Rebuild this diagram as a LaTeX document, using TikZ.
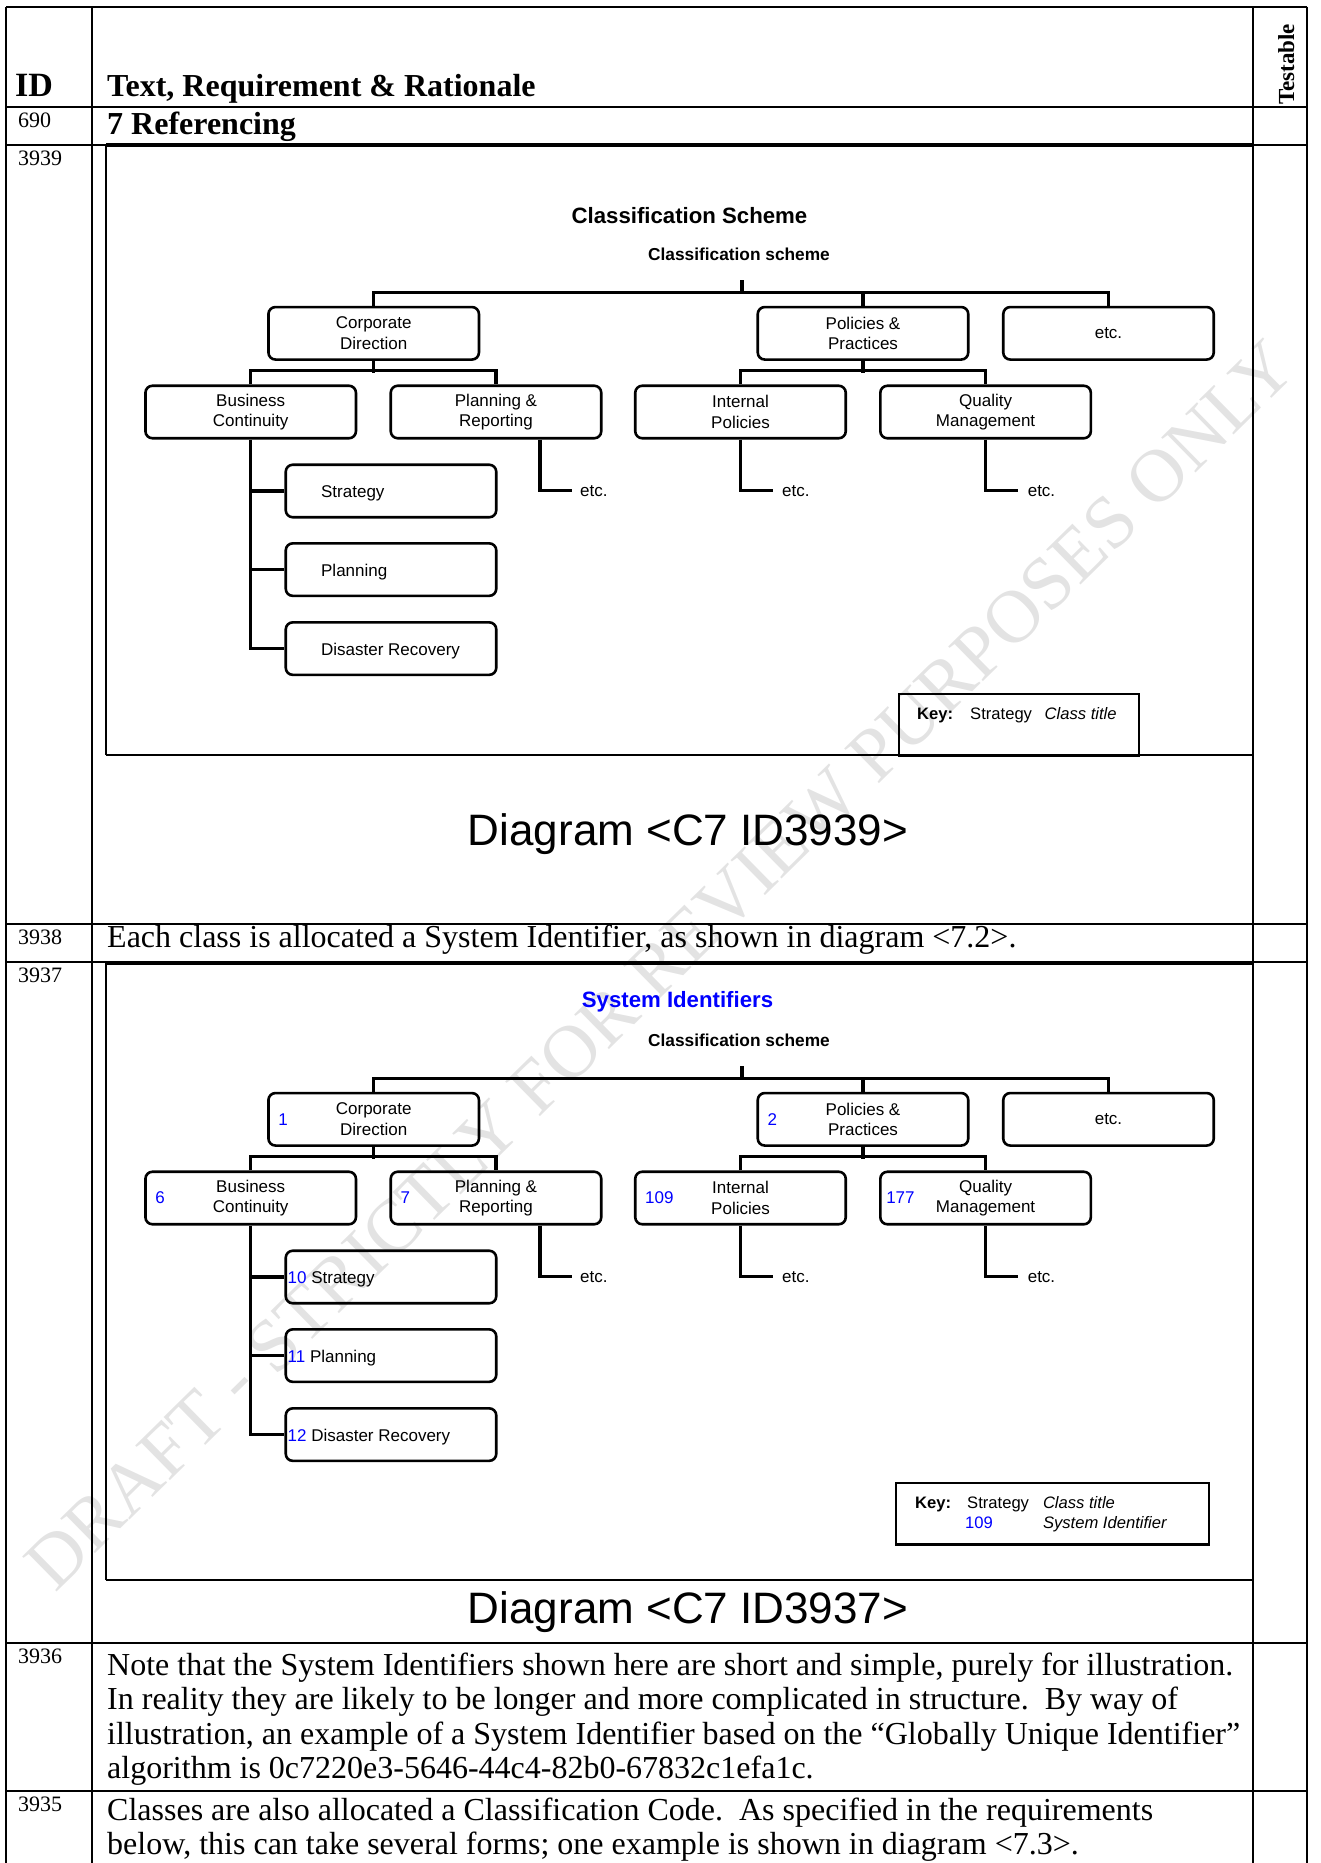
\documentclass[tikz,border=0pt]{standalone}
\usepackage{fontspec}
\setmainfont{Liberation Serif}
\newfontfamily\arialfont{Liberation Sans}
\usetikzlibrary{positioning}
\definecolor{sysblue}{RGB}{0,0,255}
\def\boxw{210.5pt}
\def\boxh{52.5pt}

\begin{document}
\begin{tikzpicture}[x=1pt,y=-1pt,
  tablerule/.style={line width=1.8pt},
  diagframe/.style={line width=2.6pt},
  framehead/.style={line width=4pt},
  classbox/.style={draw,line width=2.6pt,rounded corners=7pt,
    minimum width=\boxw,minimum height=\boxh,inner sep=0pt,
    align=center,font=\arialfont\fontsize{17}{20.5}\selectfont},
  link/.style={line width=3.4pt},
  boxtext/.style={inner sep=0pt,anchor=base west,
    font=\arialfont\fontsize{17}{20.5}\selectfont},
  sysid/.style={boxtext,anchor=west,text=sysblue},
  keytext/.style={inner sep=0pt,anchor=base west,
    font=\arialfont\fontsize{16.6}{20}\selectfont},
  celltext/.style={inner sep=0pt,anchor=base west,
    font=\fontsize{32}{34.5}\selectfont},
  idtext/.style={inner sep=0pt,anchor=base west,
    font=\fontsize{22}{24}\selectfont},
  captiontext/.style={inner sep=0pt,anchor=base,
    font=\arialfont\fontsize{44}{50}\selectfont}]
\useasboundingbox (0,0) rectangle (1321,1863);

% the watermark, behind everything
\node[rotate=44.5,text=black!11,font=\fontsize{75}{80}\selectfont] (wm)
  at (660,965) {DRAFT - STRICTLY FOR REVIEW PURPOSES ONLY};

% table rules
\draw[tablerule] (6,6.7) -- (1307,6.7);
\foreach \y in {106.7,145,924,962,1643.3,1791}
  \draw[tablerule] (6,\y) -- (1307,\y);
\foreach \x in {6,92,1253,1307}
  \draw[tablerule] (\x,6.7) -- (\x,1863);

% header row
\node[idtext,font=\bfseries\fontsize{34}{36}\selectfont] (idhead) at (15,96.7) {ID};
\node[celltext,font=\bfseries\fontsize{32}{34}\selectfont] (texthead) at (107,96.7)
  {Text, Requirement \& Rationale};
\node[inner sep=0pt,anchor=base west,rotate=90,
  font=\bfseries\fontsize{23}{25}\selectfont] (testhead) at (1294,105) {Testable};

% row ids
\node[idtext] (r690) at (18,127) {690};
\node[idtext] (r3939) at (18,165.5) {3939};
\node[idtext] (r3938) at (18,944) {3938};
\node[idtext] (r3937) at (18,982) {3937};
\node[idtext] (r3936) at (18,1663) {3936};
\node[idtext] (r3935) at (18,1811) {3935};

% row texts
\node[celltext,font=\bfseries\fontsize{32}{34.5}\selectfont] (sect) at (107,134)
  {7 Referencing};
\node[celltext] (each) at (107,947)
  {Each class is allocated a System Identifier, as shown in diagram <7.2>.};
\node[celltext] (note1) at (107,1675)
  {Note that the System Identifiers shown here are short and simple, purely for illustration.};
\node[celltext] (note2) at (107,1709.5)
  {In reality they are likely to be longer and more complicated in structure.\ \ By way of};
\node[celltext] (note3) at (107,1744)
  {illustration, an example of a System Identifier based on the “Globally Unique Identifier”};
\node[celltext] (note4) at (107,1778.5)
  {algorithm is 0c7220e3-5646-44c4-82b0-67832c1efa1c.};
\node[celltext] (code1) at (107,1820)
  {Classes are also allocated a Classification Code.\ \ As specified in the requirements};
\node[celltext] (code2) at (107,1854.5)
  {below, this can take several forms; one example is shown in diagram <7.3>.};

% the two diagram frames
\draw[diagframe] (106,755) -- (106,145);
\draw[framehead] (106,145) -- (1253,145);
\draw[diagframe] (106,755) -- (1253,755);
\draw[diagframe] (106,1580) -- (106,962.5);
\draw[framehead] (106,962.5) -- (1253,962.5);
\draw[diagframe] (106,1580) -- (1253,1580);

% diagram titles
\node[inner sep=0pt,anchor=base,font=\arialfont\bfseries\fontsize{22.2}{24}\selectfont]
  (title1) at (689.5,223) {Classification Scheme};
\node[inner sep=0pt,anchor=base,text=sysblue,
  font=\arialfont\bfseries\fontsize{22.2}{24}\selectfont]
  (title2) at (677.5,1007) {System Identifiers};

% the same class tree in both diagrams
\foreach \tr/\dy in {a/0,b/786}{
  \node[inner sep=0pt,anchor=base,font=\arialfont\bfseries\fontsize{17.3}{20}\selectfont]
    (\tr-scheme) at (739,260+\dy) {Classification scheme};
  \coordinate (\tr-root) at (742,280+\dy);
  % first level
  \node[classbox] (\tr-cd) at (373.7,333.3+\dy) {Corporate\\Direction};
  \node[classbox] (\tr-pp) at (863,333.3+\dy) {Policies \&\\Practices};
  \node[classbox] (\tr-etc) at (1108.5,333.3+\dy) {etc.};
  % second level
  \node[classbox] (\tr-bc) at (250.7,412+\dy) {Business\\Continuity};
  \node[classbox] (\tr-pr) at (496,412+\dy) {Planning \&\\Reporting};
  \node[classbox] (\tr-ip) at (740.5,412+\dy) {Internal\\Policies};
  \node[classbox] (\tr-qm) at (985.6,412+\dy) {Quality\\Management};
  % third level, titles are set below
  \node[classbox] (\tr-st) at (391,491+\dy) {};
  \node[classbox] (\tr-pl) at (391,569.6+\dy) {};
  \node[classbox] (\tr-dr) at (391,648.6+\dy) {};
  % loose ends
  \node[boxtext,anchor=west] (\tr-pre) at (580,490.7+\dy) {etc.};
  \node[boxtext,anchor=west] (\tr-ipe) at (782,490.7+\dy) {etc.};
  \node[boxtext,anchor=west] (\tr-qme) at (1027.6,490.7+\dy) {etc.};
  % connectors
  \draw[link] (\tr-root) -- ++(0,13.3);
  \draw[link] (\tr-cd.north) -- ++(0,-13.4) -| (\tr-etc.north);
  \draw[link] (\tr-pp.north) -- ++(0,-13.4);
  \draw[link] (\tr-cd.south) -- ++(0,12);
  \draw[link] (\tr-bc.north) -- ++(0,-14) -| (\tr-pr.north);
  \draw[link] (\tr-pp.south) -- ++(0,12);
  \draw[link] (\tr-ip.north) -- ++(0,-14) -| (\tr-qm.north);
  \draw[link] (\tr-bc.south) |- (\tr-dr.west);
  \draw[link] (\tr-st.west) -- (\tr-st.west -| \tr-bc.south);
  \draw[link] (\tr-pl.west) -- (\tr-pl.west -| \tr-bc.south);
  \draw[link] ([xshift=44pt]\tr-pr.south) |- ([xshift=-8.5pt]\tr-pre.west);
  \draw[link] (\tr-ip.south) |- ([xshift=-9pt]\tr-ipe.west);
  \draw[link] (\tr-qm.south) |- ([xshift=-9.6pt]\tr-qme.west);
}

% third level titles
\node[boxtext] (a-stt) at ([xshift=36.5pt,yshift=-6.5pt]a-st.west) {Strategy};
\node[boxtext] (a-plt) at ([xshift=36.5pt,yshift=-6.5pt]a-pl.west) {Planning};
\node[boxtext] (a-drt) at ([xshift=36.5pt,yshift=-6.5pt]a-dr.west) {Disaster Recovery};
\node[boxtext] (b-stt) at ([xshift=3pt,yshift=-6.5pt]b-st.west)
  {\textcolor{sysblue}{10} Strategy};
\node[boxtext] (b-plt) at ([xshift=3pt,yshift=-6.5pt]b-pl.west)
  {\textcolor{sysblue}{11} Planning};
\node[boxtext] (b-drt) at ([xshift=3pt,yshift=-6.5pt]b-dr.west)
  {\textcolor{sysblue}{12} Disaster Recovery};

% system identifiers
\node[sysid] (b-n1) at ([xshift=11pt]b-cd.west) {1};
\node[sysid] (b-n2) at ([xshift=11pt]b-pp.west) {2};
\node[sysid] (b-n6) at ([xshift=11pt]b-bc.west) {6};
\node[sysid] (b-n7) at ([xshift=11pt]b-pr.west) {7};
\node[sysid] (b-n109) at ([xshift=11pt]b-ip.west) {109};
\node[sysid] (b-n177) at ([xshift=7pt]b-qm.west) {177};

% keys
\node[draw,line width=2.4pt,inner sep=0pt,minimum width=240pt,minimum height=62pt,
  anchor=north west] (key1) at (898,693) {};
\node[keytext,font=\arialfont\bfseries\fontsize{16.6}{20}\selectfont] (key1k) at (917,719) {Key:};
\node[keytext] (key1s) at (970,719) {Strategy};
\node[keytext,font=\arialfont\itshape\fontsize{16.6}{20}\selectfont] (key1c) at (1044.5,719) {Class title};

\node[draw,line width=2.4pt,inner sep=0pt,minimum width=313pt,minimum height=61.6pt,
  anchor=north west] (key2) at (895,1481.7) {};
\node[keytext,font=\arialfont\bfseries\fontsize{16.6}{20}\selectfont] (key2k) at (915,1508) {Key:};
\node[keytext] (key2s) at (967,1508) {Strategy};
\node[keytext,font=\arialfont\itshape\fontsize{16.6}{20}\selectfont] (key2c) at (1042.8,1508) {Class title};
\node[keytext,text=sysblue] (key2n) at (965,1528) {109};
\node[keytext,font=\arialfont\itshape\fontsize{16.6}{20}\selectfont] (key2i) at (1042.8,1528) {System Identifier};

% captions
\node[captiontext] (cap1) at (688,845) {Diagram <C7 ID3939>};
\node[captiontext] (cap2) at (688,1623) {Diagram <C7 ID3937>};
\end{tikzpicture}
\end{document}
